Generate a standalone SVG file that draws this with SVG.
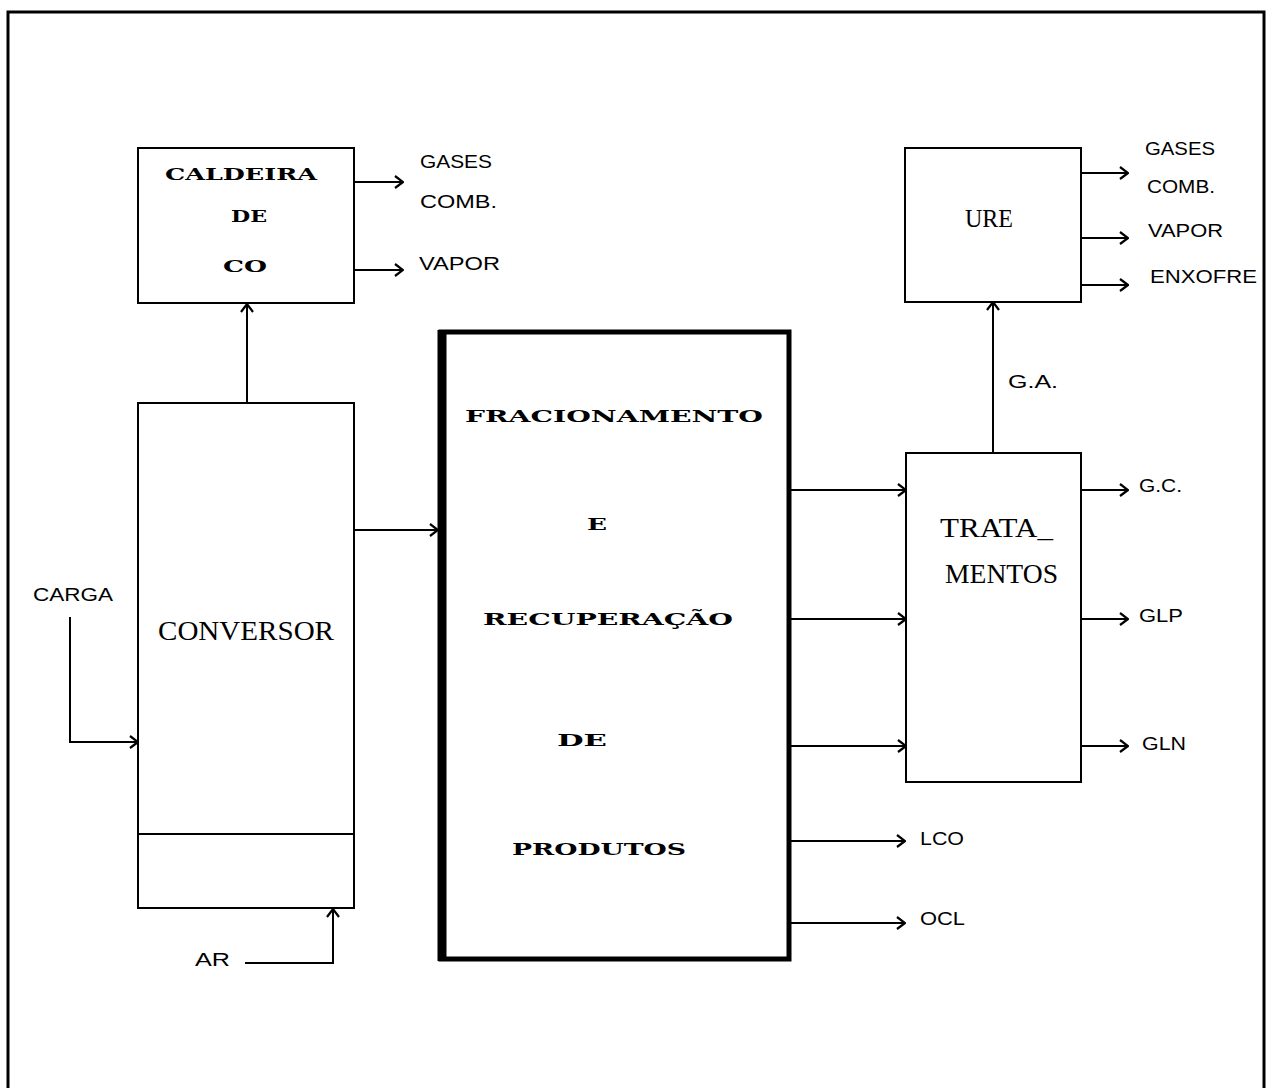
<svg xmlns="http://www.w3.org/2000/svg" width="1274" height="1088" viewBox="0 0 1274 1088">
<defs>
<marker id="arr" viewBox="0 0 10 14" refX="9" refY="7" markerWidth="10" markerHeight="14" orient="auto" markerUnits="userSpaceOnUse">
<path d="M1,1 L9,7 L1,13" fill="none" stroke="#000" stroke-width="2.2"/>
</marker>
<style>
.box{fill:#fff;stroke:#000;stroke-width:2}
.thick{fill:#fff;stroke:#000;stroke-width:5}
.conn{fill:none;stroke:#000;stroke-width:2;marker-end:url(#arr)}
.line{fill:none;stroke:#000;stroke-width:2}
.lbl{font-family:"Liberation Sans",Arial,sans-serif;font-size:18px;fill:#000}
.ser{font-family:"Liberation Serif","Times New Roman",serif;fill:#000}
.blk{font-family:"DejaVu Serif","Liberation Serif",serif;font-weight:bold;font-size:16px;fill:#000}
</style>
</defs>
<rect x="8" y="12" width="1256" height="1100" fill="none" stroke="#000" stroke-width="3"/>

<g id="connectors">
<path class="conn" d="M354,182 H403"/>
<path class="conn" d="M354,270 H403"/>
<path class="conn" d="M247,403 V304"/>
<path class="conn" d="M70,617 V742 H138"/>
<path class="conn" d="M245,963 H333 V909"/>
<path class="conn" d="M354,530 H438"/>
<path class="conn" d="M790,490 H906"/>
<path class="conn" d="M790,619 H906"/>
<path class="conn" d="M790,746 H906"/>
<path class="conn" d="M790,841 H905"/>
<path class="conn" d="M790,923 H905"/>
<path class="conn" d="M993,453 V302"/>
<path class="conn" d="M1081,173 H1128"/>
<path class="conn" d="M1081,238 H1128"/>
<path class="conn" d="M1081,285 H1128"/>
<path class="conn" d="M1081,490 H1128"/>
<path class="conn" d="M1081,619 H1128"/>
<path class="conn" d="M1081,746 H1128"/>
</g>

<g id="caldeira">
<rect class="box" x="138" y="148" width="216" height="155"/>
<text class="blk" x="165" y="180" textLength="152" lengthAdjust="spacingAndGlyphs">CALDEIRA</text>
<text class="blk" x="231" y="222" textLength="36" lengthAdjust="spacingAndGlyphs">DE</text>
<text class="blk" x="223" y="272" textLength="44" lengthAdjust="spacingAndGlyphs">CO</text>
</g>
<g id="caldeira-out">
<text class="lbl" x="420" y="168" textLength="72" lengthAdjust="spacingAndGlyphs">GASES</text>
<text class="lbl" x="420" y="208" textLength="77" lengthAdjust="spacingAndGlyphs">COMB.</text>
<text class="lbl" x="419" y="270" textLength="81" lengthAdjust="spacingAndGlyphs">VAPOR</text>
</g>

<g id="conversor">
<rect class="box" x="138" y="403" width="216" height="505"/>
<line class="line" x1="138" y1="834" x2="354" y2="834"/>
<text class="ser" x="158" y="640" font-size="28" textLength="176" lengthAdjust="spacingAndGlyphs">CONVERSOR</text>
</g>
<g id="carga"><text class="lbl" x="33" y="601" textLength="80" lengthAdjust="spacingAndGlyphs">CARGA</text></g>
<g id="ar"><text class="lbl" x="195" y="966" textLength="35" lengthAdjust="spacingAndGlyphs">AR</text></g>

<g id="fracionamento">
<rect class="thick" x="441" y="332" width="348" height="627"/>
<line x1="442" y1="330" x2="442" y2="961" stroke="#000" stroke-width="9"/>
<text class="blk" x="465" y="422" textLength="298" lengthAdjust="spacingAndGlyphs">FRACIONAMENTO</text>
<text class="blk" x="587" y="530" textLength="20" lengthAdjust="spacingAndGlyphs">E</text>
<text class="blk" x="483" y="625" textLength="250" lengthAdjust="spacingAndGlyphs">RECUPERAÇÃO</text>
<text class="blk" x="557" y="746" textLength="50" lengthAdjust="spacingAndGlyphs">DE</text>
<text class="blk" x="512" y="855" textLength="174" lengthAdjust="spacingAndGlyphs">PRODUTOS</text>
</g>

<g id="tratamentos">
<rect class="box" x="906" y="453" width="175" height="329"/>
<text class="ser" x="940" y="537" font-size="28" textLength="113" lengthAdjust="spacingAndGlyphs">TRATA_</text>
<text class="ser" x="945" y="583" font-size="28" textLength="113" lengthAdjust="spacingAndGlyphs">MENTOS</text>
</g>
<g id="ure">
<rect class="box" x="905" y="148" width="176" height="154"/>
<text class="ser" x="965" y="227" font-size="25" textLength="48" lengthAdjust="spacingAndGlyphs">URE</text>
</g>
<g id="labels">
<text class="lbl" x="1008" y="388" textLength="50" lengthAdjust="spacingAndGlyphs">G.A.</text>
<text class="lbl" x="1145" y="155" textLength="70" lengthAdjust="spacingAndGlyphs">GASES</text>
<text class="lbl" x="1147" y="193" textLength="68" lengthAdjust="spacingAndGlyphs">COMB.</text>
<text class="lbl" x="1148" y="237" textLength="75" lengthAdjust="spacingAndGlyphs">VAPOR</text>
<text class="lbl" x="1150" y="283" textLength="107" lengthAdjust="spacingAndGlyphs">ENXOFRE</text>
<text class="lbl" x="1139" y="492" textLength="43" lengthAdjust="spacingAndGlyphs">G.C.</text>
<text class="lbl" x="1139" y="622" textLength="44" lengthAdjust="spacingAndGlyphs">GLP</text>
<text class="lbl" x="1142" y="750" textLength="44" lengthAdjust="spacingAndGlyphs">GLN</text>
<text class="lbl" x="920" y="845" textLength="44" lengthAdjust="spacingAndGlyphs">LCO</text>
<text class="lbl" x="920" y="925" textLength="45" lengthAdjust="spacingAndGlyphs">OCL</text>
</g>
</svg>
